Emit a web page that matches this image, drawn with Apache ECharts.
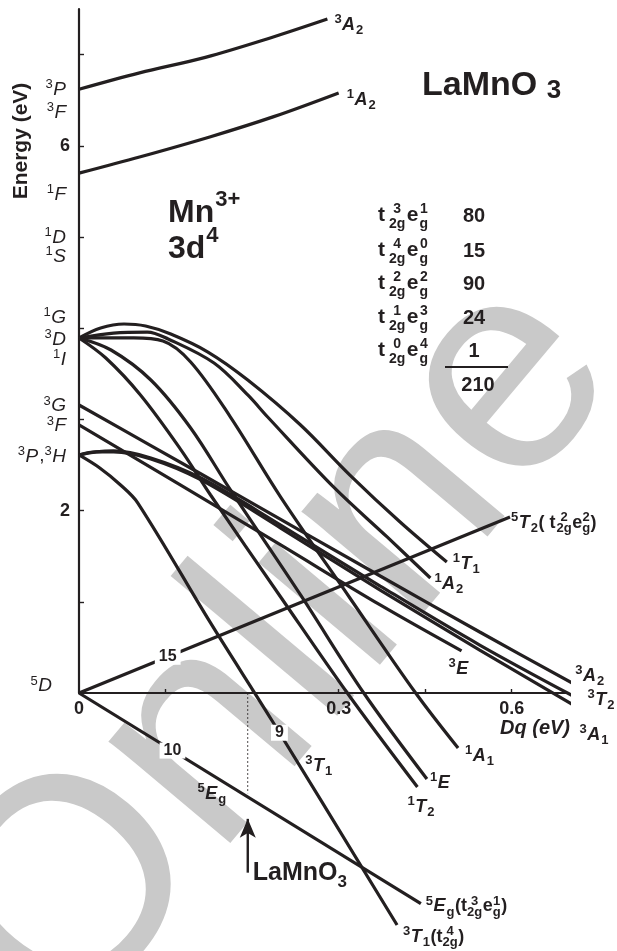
<!DOCTYPE html>
<html><head><meta charset="utf-8">
<script src="https://cdn.jsdelivr.net/npm/echarts@6/dist/echarts.min.js"></script>
<style>html,body{margin:0;padding:0;background:#fff}#c{width:617px;height:951px}</style>
</head><body><div id="c"></div>
<script>
const FONT = '"Liberation Sans", Arial, Helvetica, sans-serif';
const INK = '#231f20';

// ---- axes ----
const xTickValues = [0.1, 0.2, 0.3, 0.4, 0.5];
const xLabelValues = [0, 0.3, 0.5];
const xLabelTexts = ['0', '0.3', '0.6'];
const yTickValues = [1, 2, 3, 4, 5, 6, 7];
const yLabelValues = [2, 6];

// ---- curves: [Dq axis, energy eV] ----
const s3A2top = [[0,6.62],[0.07,6.80],[0.146,6.97],[0.22,7.18],[0.287,7.39]];
const s1A2top = [[0,5.70],[0.071,5.88],[0.152,6.10],[0.225,6.32],[0.30,6.58]];
const s1T1 = [[0,3.893],[0.025,4.002],[0.052,4.046],[0.077,4.024],[0.106,3.936],[0.149,3.739],[0.195,3.432],[0.256,2.939],[0.313,2.390],[0.371,1.875],[0.425,1.436]];
const s1A2 = [[0,3.893],[0.040,3.947],[0.079,3.958],[0.103,3.882],[0.156,3.618],[0.195,3.268],[0.218,3.026],[0.294,2.259],[0.356,1.711],[0.406,1.261]];
const s1A1 = [[0,3.893],[0.063,3.893],[0.097,3.86],[0.129,3.63],[0.175,3.026],[0.233,2.149],[0.313,1.042],[0.389,0],[0.438,-0.603]];
const s1E = [[0,3.893],[0.037,3.761],[0.083,3.432],[0.129,2.906],[0.175,2.226],[0.256,1.075],[0.329,0],[0.402,-0.943]];
const s1T2 = [[0,3.893],[0.031,3.673],[0.071,3.268],[0.118,2.664],[0.152,2.171],[0.233,1.053],[0.31,0],[0.391,-1.031]];
const s3A2 = [[0,3.158],[0.082,2.719],[0.198,2.094],[0.348,1.283],[0.463,0.669],[0.578,0.066]];
const s3E = [[0,2.939],[0.117,2.281],[0.233,1.623],[0.348,0.965],[0.442,0.461]];
const s3T2 = [[0,2.61],[0.02,2.643],[0.04,2.654],[0.083,2.577],[0.141,2.357],[0.233,1.842],[0.348,1.173],[0.463,0.526],[0.584,-0.099]];
const s3A1 = [[0,2.61],[0.02,2.643],[0.04,2.643],[0.083,2.566],[0.141,2.336],[0.233,1.809],[0.348,1.129],[0.463,0.471],[0.599,-0.285]];
const s3T1 = [[0,2.61],[0.024,2.467],[0.048,2.281],[0.068,2.083],[0.152,0.768],[0.224,-0.318],[0.3675,-2.544]];
const s5T2 = [[0,0],[0.498,1.93]];
const s5Eg = [[0,0],[0.395,-2.31]];

// LaMnO3 marker (Dq position) and term energies of the free ion
const laMnO3Dq = 0.195;
const termTexts = [['^3','*P'],['^3','*F'],['^1','*F'],['^1','*D'],['^1','*S'],['^1','*G'],['^3','*D'],['^1','*I'],['^3','*G'],['^3','*F'],['^3','*P',',','^3','*H'],['^5','*D']];
const termEnergies = [6.62, 6.37, 5.47, 5.00, 4.79, 4.12, 3.88, 3.66, 3.15, 2.93, 2.60, 0.08];

// configuration table
const configTokens = [
  ['t','~4','^3_2g','~1','e','~1','^1_g'],
  ['t','~4','^4_2g','~1','e','~1','^0_g'],
  ['t','~4','^2_2g','~1','e','~1','^2_g'],
  ['t','~4','^1_2g','~1','e','~1','^3_g'],
  ['t','~4','^0_2g','~1','e','~1','^4_g']];
const configCounts = ['80','15','90','24','1'];
const configTotal = '210';

const curves = [
  {d:s3A2top, lab:['^3','*A','_2'], off:[7,12]},
  {d:s1A2top, lab:['^1','*A','_2'], off:[8,13]},
  {d:s1T1, lab:['^1','*T','_1'], off:[6,8]},
  {d:s1A2, lab:['^1','*A','_2'], off:[4,12]},
  {d:s1A1, lab:['^1','*A','_1'], off:[7,14]},
  {d:s1E, lab:['^1','*E'], off:[3,10]},
  {d:s1T2, lab:['^1','*T','_2'], off:[-10,26]},
  {d:s3A2, lab:['^3','*A','_2'], off:[-4,-5]},
  {d:s3E, lab:['^3','*E'], off:[-13,24]},
  {d:s3T2, lab:['^3','*T','_2'], off:[3,4]},
  {d:s3A1, lab:['^3','*A','_1'], off:[-18,22]},
  {d:s3T1, lab:['^3','*T','_1','(','t','^4_2g',')'], off:[6,18]},
  {d:s5T2, lab:['^5','*T','_2','( ','t','~1','^2_2g','e','^2_g',')'], off:[1,12]},
  {d:s5Eg, lab:['^5','*E','_g','(','t','^3_2g','e','^1_g',')'], off:[5,9]}
];

const chart = echarts.init(document.getElementById('c'), null, {renderer:'canvas'});

const series = curves.map(c => ({
  type:'line', data:c.d, showSymbol:false, smooth:0.35, clip:false, silent:true,
  lineStyle:{color:INK, width:3.2}, z:5
}));
// dashed LaMnO3 guide
series.push({type:'line', data:[[laMnO3Dq,0],[laMnO3Dq,-1.10]], showSymbol:false, clip:false, silent:true,
  lineStyle:{color:INK, width:0.8, type:[2,2]}, z:4});
// arrow
series.push({type:'line', clip:false, silent:true, z:6,
  data:[{value:[laMnO3Dq,-1.97], symbol:'none'},{value:[laMnO3Dq,-1.38], symbol:'arrow', symbolSize:[12,19]}],
  showSymbol:true, lineStyle:{color:INK, width:2.4}, itemStyle:{color:INK}});

chart.setOption({
  animation:false,
  backgroundColor:'#fff',
  grid:{left:79, top:9, bottom:258, right:49},
  xAxis:{type:'value', min:0, max:0.565, z:3,
    axisLine:{show:true, onZero:true, lineStyle:{color:INK, width:2.2}},
    axisTick:{show:true, inside:true, length:4, customValues:xTickValues, lineStyle:{color:INK, width:1.4}},
    axisLabel:{show:true, customValues:xLabelValues, margin:7, color:INK, fontFamily:FONT, fontWeight:'bold', fontSize:18,
      formatter:v => { const i = xLabelValues.findIndex(a => Math.abs(a - v) < 1e-9); return i >= 0 ? xLabelTexts[i] : ''; }},
    splitLine:{show:false}},
  yAxis:{type:'value', min:0, max:7.5, z:3,
    axisLine:{show:true, onZero:true, lineStyle:{color:INK, width:2.2}},
    axisTick:{show:true, inside:true, length:5, customValues:yTickValues, lineStyle:{color:INK, width:1.4}},
    axisLabel:{show:true, customValues:yLabelValues, margin:9, color:INK, fontFamily:FONT, fontWeight:'bold', fontSize:18},
    splitLine:{show:false}},
  series
});

// ---------- text helpers ----------
const mctx = document.createElement('canvas').getContext('2d');
function fontStr(size, bold, italic){ return (italic?'italic ':'') + (bold?'bold ':'') + size + 'px ' + FONT; }
function measure(t, f){ mctx.font = f; return mctx.measureText(t).width; }
function layout(tokens, o){
  const items = []; let cx = 0;
  const smallF = fontStr(o.small, o.bold, false);
  for (const tk of tokens){
    if (tk[0] === '~'){ cx += parseFloat(tk.slice(1)); continue; }
    if (tk[0] === '^' || tk[0] === '_'){
      let sup = null, sub = null;
      if (tk[0] === '^'){ const i = tk.indexOf('_'); if (i > 0){ sup = tk.slice(1, i); sub = tk.slice(i+1); } else sup = tk.slice(1); }
      else sub = tk.slice(1);
      const ws = sup ? measure(sup, smallF) : 0, wb = sub ? measure(sub, smallF) : 0;
      const w = Math.max(ws, wb);
      if (sup) items.push({t:sup, f:smallF, s:o.small, x:cx + (w-ws)/2, dy:-o.size*o.supR});
      if (sub) items.push({t:sub, f:smallF, s:o.small, x:cx + (w-wb)/2, dy:o.size*o.subR});
      cx += w + 0.5;
    } else {
      const it = tk[0] === '*'; const t = it ? tk.slice(1) : tk;
      const f = fontStr(o.size, o.bold, it);
      items.push({t, f, s:o.size, x:cx, dy:0}); cx += measure(t, f) + (it ? 1 : 0);
    }
  }
  return {items, width:cx};
}
function place(out, x, base, tokens, o){
  o = Object.assign({size:18, small:13, bold:true, supR:0.38, subR:0.24, align:'left', sx:1}, o);
  const L = layout(tokens, o);
  const x0 = o.align === 'right' ? x - L.width*o.sx : (o.align === 'center' ? x - L.width*o.sx/2 : x);
  for (const it of L.items){
    out.push({type:'text', x:x0 + it.x*o.sx, y:base + it.dy - 0.35*it.s, scaleX:o.sx, z:100, silent:true,
      style:{text:it.t, font:it.f, fill:INK, textAlign:'left', align:'left', textVerticalAlign:'middle', verticalAlign:'middle', lineHeight:it.s}});
  }
  return L.width*o.sx;
}
function lerp(d, u){
  for (let i = 0; i < d.length-1; i++){
    if (u >= d[i][0] && u <= d[i+1][0]){ const t = (u-d[i][0])/(d[i+1][0]-d[i][0]); return d[i][1] + t*(d[i+1][1]-d[i][1]); }
  }
  return d[d.length-1][1];
}

function buildGraphics(){
  const g = [];
  const px = p => chart.convertToPixel({gridIndex:0}, p);
  // publisher watermark (behind everything)
  const WS = 300;
  g.push({type:'text', x:84, y:1052, rotation:50*Math.PI/180, z:-10, silent:true,
    style:{text:'Online', x:0, y:-0.35*WS, font:'normal ' + WS + 'px ' + FONT, fill:'#c9c9c9',
      textAlign:'left', align:'left', textVerticalAlign:'middle', verticalAlign:'middle', lineHeight:WS}});
  // curve end labels
  curves.forEach(c => {
    const e = px(c.d[c.d.length-1]);
    place(g, e[0] + c.off[0], e[1] + c.off[1], c.lab, {size:18, small:13});
  });
  // term labels on y axis
  const o0 = px([0,0]);
  termTexts.forEach((t, i) => {
    const p = px([0, termEnergies[i]]);
    const right = i === termTexts.length-1 ? o0[0] - 26 : o0[0] - 12;
    place(g, right, p[1] + 7, t, {size:19, small:13, bold:false, align:'right'});
  });
  // numbers on lines (with white gap)
  [[s5T2, 0.1025, '15'], [s5Eg, 0.108, '10'], [s3T1, 0.2316, '9']].forEach(([d, u, t]) => {
    const p = px([u, lerp(d, u)]);
    const f = fontStr(16, true, false); const w = measure(t, f);
    g.push({type:'rect', shape:{x:p[0]-w/2-4, y:p[1]-8, width:w+8, height:16}, style:{fill:'#fff'}, z:90, silent:true});
    g.push({type:'text', x:p[0], y:p[1], z:100, silent:true, style:{text:t, font:f, fill:INK, textAlign:'center', align:'center', textVerticalAlign:'middle', verticalAlign:'middle'}});
  });
  // mid-chart labels
  const aT1 = px([0.2615, -0.866]);
  place(g, aT1[0], aT1[1], ['^3','*T','_1'], {size:18, small:13});
  const aEg = px([0.137, -1.173]);
  place(g, aEg[0], aEg[1], ['^5','*E','_g'], {size:18, small:13});
  // LaMnO3 arrow label
  const ab = px([laMnO3Dq, -1.97]);
  place(g, ab[0] + 5, ab[1] + 9, ['LaMnO','_3'], {size:25, small:17, subR:0.25});
  // title labels
  place(g, 422, 98, ['LaMnO',' ','_3'], {size:34, small:26, subR:0.06});
  place(g, 168, 224, ['Mn','~1','^3+'], {size:32, small:22, supR:0.5});
  place(g, 168, 260, ['3d','~1','^4'], {size:32, small:22, supR:0.5});
  // table
  const rows = [223, 258, 291, 325, 358];
  rows.forEach((b, i) => {
    place(g, 378, b, configTokens[i], {size:21, small:14, supR:0.45, subR:0.3});
    place(g, 474, b, [configCounts[i]], {size:20, align:'center'});
  });
  g.push({type:'line', shape:{x1:445, y1:367, x2:508, y2:367}, style:{stroke:INK, lineWidth:2}, z:100, silent:true});
  place(g, 478, 392, [configTotal], {size:20, align:'center'});
  // axis titles
  g.push({type:'text', x:21, y:141, rotation:Math.PI/2, z:100, silent:true,
    style:{text:'Energy (eV)', font:fontStr(21, true, false), fill:INK, textAlign:'center', align:'center', textVerticalAlign:'middle', verticalAlign:'middle'}});
  place(g, 500, 735, ['*Dq (eV)'], {size:20});
  return g;
}
chart.setOption({graphic:buildGraphics()});
</script></body></html>
